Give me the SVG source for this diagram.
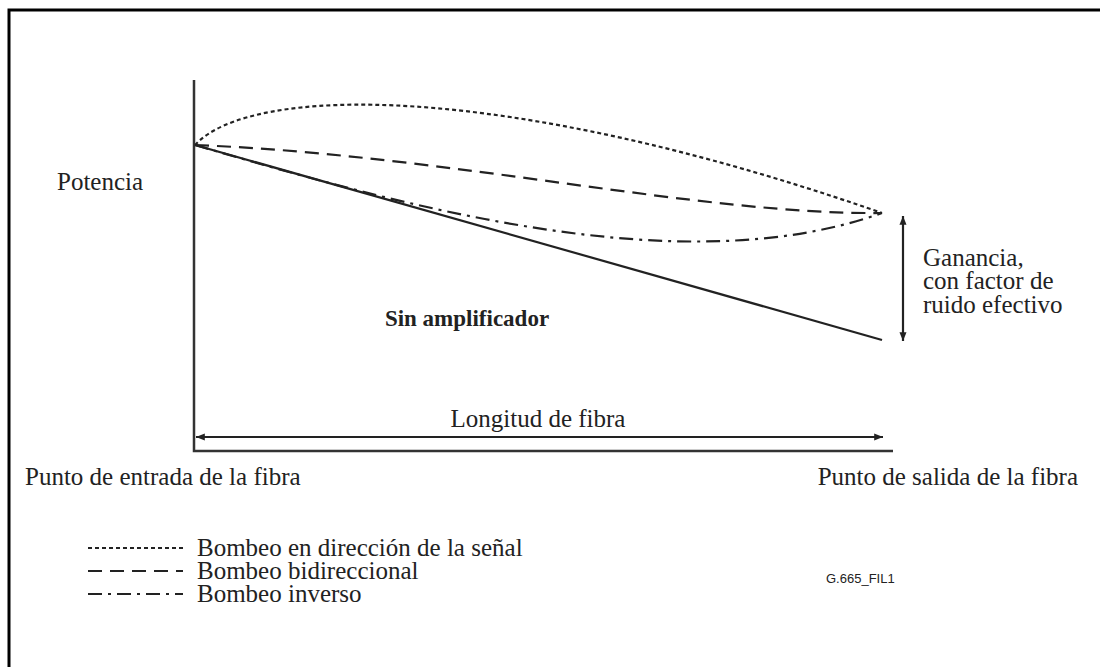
<svg xmlns="http://www.w3.org/2000/svg" width="1100" height="667" viewBox="0 0 1100 667">
<style>
text{font-family:"Liberation Serif","Times New Roman",serif;font-size:25px;fill:#222}
.b{font-weight:bold;font-size:23px}
.ax{stroke:#333;stroke-width:2.5;fill:none}
.c{fill:none;stroke:#222;stroke-width:2.2}
.dot{stroke-dasharray:4 3}
.dash{stroke-dasharray:14 8}
.dd{stroke-dasharray:14 6 3 6}
</style>
<defs>
<marker id="ah" viewBox="0 0 10 10" refX="10" refY="5" markerWidth="4" markerHeight="4" orient="auto-start-reverse" markerUnits="strokeWidth">
<path d="M0,1 L10,5 L0,9 Z" fill="#222"/>
</marker>
</defs>
<rect width="1100" height="667" fill="#fff"/>
<path d="M9,667 V10 H1100" fill="none" stroke="#000" stroke-width="3"/>
<g id="axes">
<path class="ax" d="M194,80 V451 H893"/>
</g>
<g id="curves">
<path class="c dot" d="M195,145 C250,85 500,80 882,213"/>
<path class="c dash" d="M195,145 C450,155 700,215 882,213"/>
<path class="c dd" d="M195,145 C400,205 680,285 882,213"/>
<path class="c" d="M195,145 L882,340"/>
</g>
<g id="connectors">
<line x1="903" y1="216" x2="903" y2="341" stroke="#222" stroke-width="2.2" marker-start="url(#ah)" marker-end="url(#ah)"/>
<line x1="196" y1="437" x2="883" y2="437" stroke="#222" stroke-width="2.2" marker-start="url(#ah)" marker-end="url(#ah)"/>
</g>
<g id="labels">
<text x="57" y="190">Potencia</text>
<text x="923" y="266">Ganancia,</text>
<text x="923" y="289">con factor de</text>
<text x="923" y="313">ruido efectivo</text>
<text class="b" x="467" y="326" text-anchor="middle">Sin amplificador</text>
<text x="538" y="427" text-anchor="middle">Longitud de fibra</text>
<text x="25" y="485">Punto de entrada de la fibra</text>
<text x="1078" y="485" text-anchor="end">Punto de salida de la fibra</text>
</g>
<g id="legend">
<line class="c dot" x1="88" y1="548" x2="183" y2="548"/>
<line class="c dash" x1="88" y1="571" x2="183" y2="571"/>
<line class="c dd" x1="88" y1="594" x2="183" y2="594"/>
<text x="197" y="556">Bombeo en dirección de la señal</text>
<text x="197" y="579">Bombeo bidireccional</text>
<text x="197" y="602">Bombeo inverso</text>
<text x="826" y="583" style="font-family:'Liberation Sans',Arial,sans-serif;font-size:13px">G.665_FIL1</text>
</g>
</svg>
